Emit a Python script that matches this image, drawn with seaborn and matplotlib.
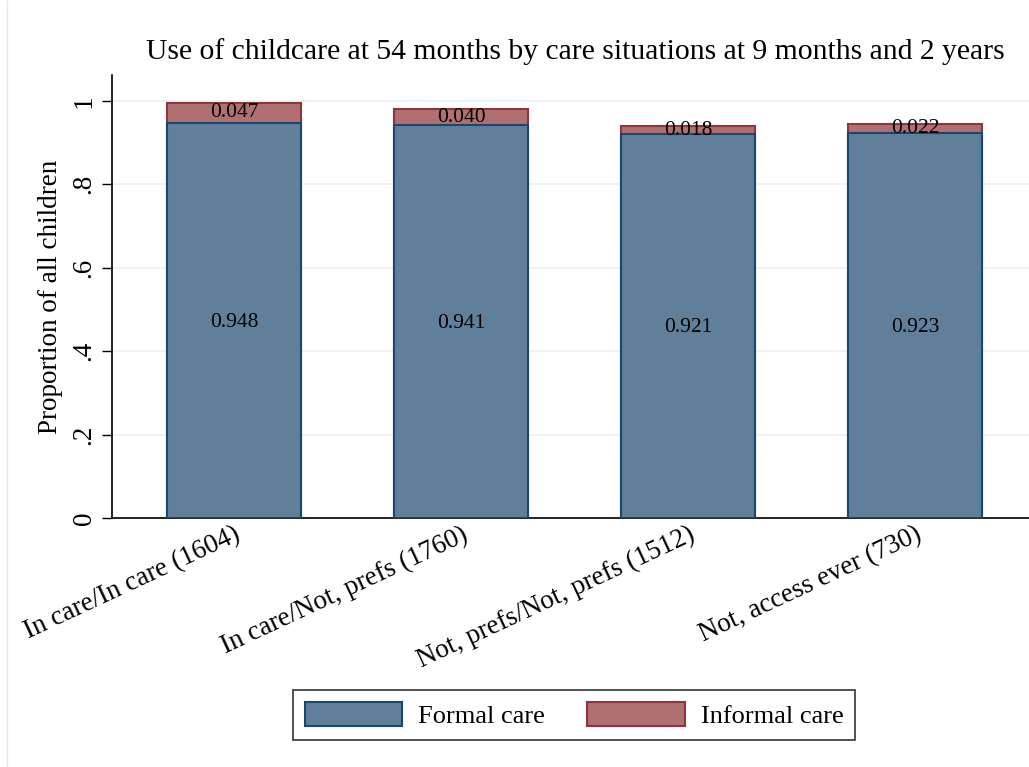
import matplotlib
matplotlib.use("Agg")
import matplotlib.pyplot as plt
import seaborn as sns
import pandas as pd
from matplotlib.patches import Patch
from matplotlib.lines import Line2D

categories = ["In care/In care (1604)", "In care/Not, prefs (1760)",
              "Not, prefs/Not, prefs (1512)", "Not, access ever (730)"]
formal = [0.948, 0.941, 0.921, 0.923]
informal = [0.047, 0.040, 0.018, 0.022]
yticks = [0, 0.2, 0.4, 0.6, 0.8, 1.0]
ytick_labels = ["0", ".2", ".4", ".6", ".8", "1"]

sns.set_theme(style="white")
plt.rcParams["font.family"] = ["Liberation Serif", "DejaVu Serif"]
plt.rcParams["text.color"] = "black"
plt.rcParams["axes.labelcolor"] = "black"
plt.rcParams["xtick.color"] = "black"
plt.rcParams["ytick.color"] = "black"

blue_fill = "#5f7f9b"
blue_edge = "#1a476f"
red_fill = "#b07072"
red_edge = "#90353b"

df = pd.DataFrame({"cat": categories, "formal": formal, "informal": informal})
df["total"] = df["formal"] + df["informal"]

fig = plt.figure(figsize=(10.29, 7.67), dpi=100)
ax = fig.add_axes([112 / 1029, 1 - 518 / 767, 1 - 112 / 1029, (518 - 75) / 767])

for y in yticks:
    ax.axhline(y, color="#eaf2f3", lw=1.2, zorder=0)

sns.barplot(data=df, x="cat", y="total", color=red_fill, saturation=1,
            width=0.59, edgecolor=red_edge, linewidth=1.5, ax=ax, zorder=2)
sns.barplot(data=df, x="cat", y="formal", color=blue_fill, saturation=1,
            width=0.59, edgecolor=blue_edge, linewidth=1.5, ax=ax, zorder=3)

for i, (f, inf) in enumerate(zip(formal, informal)):
    ax.text(i, f / 2 - 0.005, f"{f:.3f}", ha="center", va="center", fontsize=15.5, color="black", zorder=5)
    ax.text(i, f + inf / 2, f"{inf:.3f}", ha="center", va="center", fontsize=15.5, color="black", zorder=5)

ax.set_xlim(-0.537, 3.502)
ax.set_ylim(0, 1.062)
ax.set_yticks(yticks)
ax.set_yticklabels(ytick_labels, rotation=90, va="center", fontsize=19.5)
ax.set_xticks(range(len(categories)))
ax.set_xticklabels(categories, rotation=25, ha="right", rotation_mode="anchor", fontsize=19.5)
ax.tick_params(axis="y", length=7, width=1, color="black", left=True, pad=4)
ax.tick_params(axis="x", length=0, pad=3)
ax.set_xlabel("")
ax.set_ylabel("Proportion of all children", fontsize=19.5, labelpad=6)

for s in ["top", "right"]:
    ax.spines[s].set_visible(False)
for s in ["left", "bottom"]:
    ax.spines[s].set_color("black")
    ax.spines[s].set_linewidth(1.2)

fig.text(575 / 1029, 1 - 52 / 767,
         "Use of childcare at 54 months by care situations at 9 months and 2 years",
         ha="center", va="center", fontsize=21.3)

handles = [Patch(facecolor=blue_fill, edgecolor=blue_edge, linewidth=1.5, label="Formal care"),
           Patch(facecolor=red_fill, edgecolor=red_edge, linewidth=1.5, label="Informal care")]
leg = fig.legend(handles=handles, loc="center", bbox_to_anchor=(574 / 1029, 1 - 715 / 767),
                 ncol=2, frameon=True, fancybox=False, fontsize=19, handlelength=3.7,
                 handleheight=1.0, columnspacing=1.6, borderpad=0.45, handletextpad=0.6)
leg.get_frame().set_edgecolor("black")
leg.get_frame().set_linewidth(1.2)

fig.add_artist(Line2D([7 / 1029, 7 / 1029], [0, 1], color="#e6e6e6", lw=1, transform=fig.transFigure))

fig.savefig("out.png", dpi=100, facecolor="white")
